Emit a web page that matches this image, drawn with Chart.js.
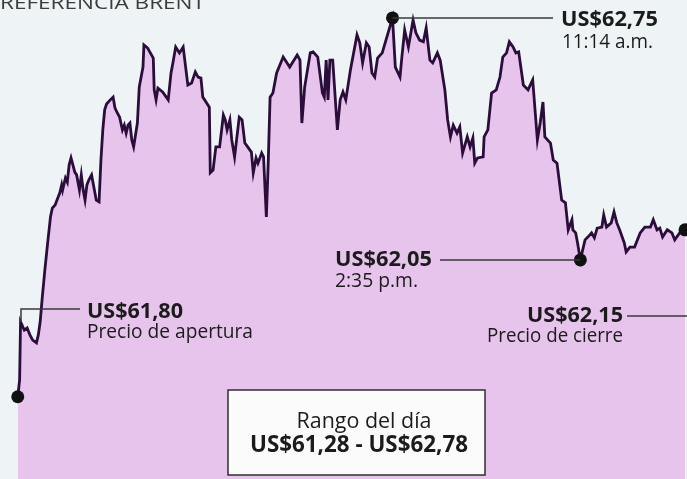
<!DOCTYPE html>
<html>
<head>
<meta charset="utf-8">
<script src="https://cdn.jsdelivr.net/npm/chart.js@4.4.1/dist/chart.umd.min.js"></script>
<style>
  html, body { margin: 0; padding: 0; background: #eef4f6; }
  #wrap { width: 687px; height: 479px; position: relative; }
</style>
</head>
<body>
<div id="wrap"><canvas id="brent"></canvas></div>
<script>
// minutos desde medianoche
const horas = [
  273, 275, 276, 280, 283, 286, 289, 293, 295, 297, 299, 302, 305, 308, 310, 313, 315, 318, 320, 321,
  324, 326, 328, 330, 332, 334, 336, 339, 341, 343, 345, 347, 349, 352, 355, 357, 360, 362, 364, 366,
  368, 372, 375, 377, 379, 382, 385, 387, 389, 391, 393, 395, 397, 401, 403, 407, 408, 412, 418, 419,
  421, 423, 428, 434, 437, 439, 442, 446, 450, 453, 455, 459, 463, 466, 469, 471, 478, 479, 482, 485,
  489, 493, 495, 497, 500, 502, 505, 510, 513, 516, 519, 523, 525, 528, 530, 534, 536, 539, 541, 543,
  546, 550, 557, 564, 572, 575, 577, 580, 586, 589, 594, 599, 601, 603, 605, 607, 610, 615, 618, 621,
  624, 629, 636, 639, 642, 646, 649, 652, 655, 658, 663, 668, 674, 677, 682, 684, 687, 691, 696, 699,
  703, 707, 710, 714, 717, 722, 725, 730, 733, 736, 739, 743, 746, 749, 754, 757, 760, 762, 765, 771,
  772, 776, 780, 785, 789, 792, 796, 799, 803, 806, 809, 814, 819, 824, 829, 832, 835, 837, 843, 846,
  850, 855, 859, 862, 866, 867, 870, 872, 875, 880, 883, 887, 890, 893, 898, 900, 903, 908, 911, 914,
  917, 922, 924, 928, 933, 939, 944, 950, 953, 957, 960, 963, 968, 973, 976, 982, 987
];
const precios = [
  61.654, 61.703, 61.871, 61.847, 61.853, 61.833, 61.818, 61.810, 61.833, 61.871, 61.934, 62.021, 62.099, 62.174, 62.200, 62.209, 62.223, 62.244, 62.267, 62.252,
  62.287, 62.275, 62.325, 62.345, 62.325, 62.304, 62.296, 62.252, 62.296, 62.252, 62.223, 62.267, 62.281, 62.296, 62.252, 62.223, 62.218, 62.339, 62.426, 62.484,
  62.501, 62.513, 62.521, 62.490, 62.478, 62.463, 62.426, 62.440, 62.417, 62.440, 62.446, 62.397, 62.377, 62.446, 62.550, 62.608, 62.672, 62.663, 62.634, 62.542,
  62.513, 62.547, 62.536, 62.513, 62.591, 62.620, 62.666, 62.649, 62.666, 62.600, 62.556, 62.562, 62.594, 62.579, 62.576, 62.521, 62.492, 62.302, 62.310, 62.377,
  62.377, 62.469, 62.455, 62.426, 62.455, 62.397, 62.348, 62.463, 62.455, 62.388, 62.377, 62.362, 62.302, 62.345, 62.330, 62.359, 62.348, 62.174, 62.330, 62.521,
  62.533, 62.591, 62.637, 62.608, 62.643, 62.628, 62.446, 62.550, 62.649, 62.652, 62.637, 62.533, 62.521, 62.628, 62.513, 62.628, 62.628, 62.426, 62.513, 62.536,
  62.513, 62.600, 62.701, 62.678, 62.620, 62.678, 62.666, 62.591, 62.579, 62.634, 62.649, 62.695, 62.750, 62.608, 62.579, 62.637, 62.715, 62.666, 62.744, 62.707,
  62.686, 62.681, 62.721, 62.628, 62.620, 62.649, 62.628, 62.542, 62.455, 62.406, 62.440, 62.417, 62.435, 62.359, 62.406, 62.377, 62.403, 62.330, 62.345, 62.348,
  62.406, 62.426, 62.533, 62.542, 62.579, 62.637, 62.649, 62.681, 62.666, 62.649, 62.652, 62.556, 62.542, 62.571, 62.397, 62.446, 62.507, 62.406, 62.388, 62.339,
  62.330, 62.223, 62.215, 62.137, 62.166, 62.137, 62.128, 62.099, 62.050, 62.108, 62.116, 62.128, 62.114, 62.142, 62.145, 62.180, 62.145, 62.157, 62.189, 62.157,
  62.137, 62.099, 62.073, 62.087, 62.087, 62.128, 62.145, 62.145, 62.166, 62.137, 62.142, 62.116, 62.137, 62.128, 62.108, 62.131, 62.137
];

const titulo = 'REFERENCIA BRENT';
const etiquetaMax = ['US$62,75', '11:14 a.m.'];
const etiquetaMin = ['US$62,05', '2:35 p.m.'];
const etiquetaApertura = ['US$61,80', 'Precio de apertura'];
const etiquetaCierre = ['US$62,15', 'Precio de cierre'];
const rango = ['Rango del día', 'US$61,28 - US$62,78'];

const iMax = precios.indexOf(Math.max(...precios));
const iMin = horas.indexOf(875);
const marcados = [0, iMax, iMin, horas.length - 1];

const serie = horas.map((h, i) => ({ x: h, y: precios[i] }));
const puntos = marcados.map(i => ({ x: horas[i], y: precios[i] }));

// texto ajustado a un ancho dado (la fuente original es condensada)
function texto(ctx, s, x, y, ancho, fuente, centro) {
  ctx.save();
  ctx.font = fuente;
  const k = ancho / ctx.measureText(s).width;
  ctx.translate(centro ? x - ancho / 2 : x, y);
  ctx.scale(k, 1);
  ctx.fillText(s, 0, 0);
  ctx.restore();
}

const anotaciones = {
  id: 'anotaciones',
  afterDatasetsDraw(chart) {
    const ctx = chart.ctx;
    const sx = chart.scales.x, sy = chart.scales.y;
    const px = i => sx.getPixelForValue(horas[i]);
    const py = i => sy.getPixelForValue(precios[i]);
    const B = '700 22px "Open Sans"', R = '400 20px "Open Sans"';

    ctx.save();
    ctx.strokeStyle = '#3a3a3a';
    ctx.lineWidth = 1.5;
    ctx.beginPath();
    ctx.moveTo(px(iMax), py(iMax)); ctx.lineTo(553, py(iMax));
    ctx.moveTo(440, py(iMin)); ctx.lineTo(px(iMin), py(iMin));
    ctx.moveTo(80, 309); ctx.lineTo(21, 309); ctx.lineTo(21, 322);
    ctx.moveTo(627, 316); ctx.lineTo(687, 316);
    ctx.stroke();

    ctx.fillStyle = '#3c3c3c';
    texto(ctx, titulo, 0, 9, 205, '400 18px "Open Sans"');

    ctx.fillStyle = '#1b1b1b';
    texto(ctx, etiquetaMax[0], 561, 26, 97, B);
    texto(ctx, etiquetaMax[1], 562, 48, 91, R);
    texto(ctx, etiquetaMin[0], 335, 266, 97, B);
    texto(ctx, etiquetaMin[1], 335, 287, 83, R);
    texto(ctx, etiquetaApertura[0], 87, 318, 96, B);
    texto(ctx, etiquetaApertura[1], 87, 338, 166, R);
    texto(ctx, etiquetaCierre[0], 527, 322, 96, B);
    texto(ctx, etiquetaCierre[1], 487, 342, 136, R);

    ctx.fillStyle = '#fbfbfb';
    ctx.strokeStyle = '#2e2e2e';
    ctx.lineWidth = 1.5;
    ctx.fillRect(228, 390, 257, 85);
    ctx.strokeRect(228, 390, 257, 85);
    ctx.fillStyle = '#1b1b1b';
    texto(ctx, rango[0], 364, 428, 135, '400 22px "Open Sans"', true);
    texto(ctx, rango[1], 359, 452, 218, '700 23px "Open Sans"', true);
    ctx.restore();
  }
};

new Chart(document.getElementById('brent'), {
  type: 'line',
  data: {
    datasets: [
      {
        data: puntos,
        showLine: false,
        pointRadius: 6.5,
        pointBackgroundColor: '#111',
        pointBorderWidth: 0,
        clip: false,
        order: 0
      },
      {
        data: serie,
        borderColor: '#2b0d3b',
        borderWidth: 2.8,
        backgroundColor: '#e7c4ec',
        fill: 'start',
        pointRadius: 0,
        tension: 0,
        clip: false,
        order: 1
      }
    ]
  },
  options: {
    responsive: true,
    maintainAspectRatio: false,
    animation: false,
    layout: { padding: 0, autoPadding: false },
    plugins: { legend: { display: false }, tooltip: { enabled: false } },
    scales: {
      x: { type: 'linear', display: false, min: 254, max: 989.1 },
      y: { display: false, min: 61.416, max: 62.802 }
    }
  },
  plugins: [anotaciones]
});
</script>
</body>
</html>
